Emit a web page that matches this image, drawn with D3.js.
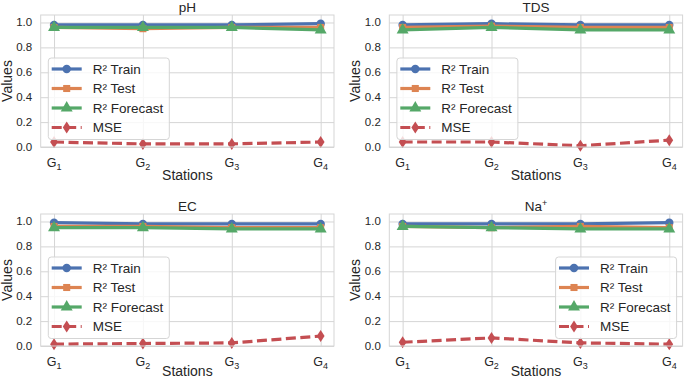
<!DOCTYPE html>
<html>
<head>
<meta charset="utf-8">
<script src="https://cdn.jsdelivr.net/npm/d3@7"></script>
<style>
  body { margin: 0; background: #fff; }
  svg { font-family: "Liberation Sans", Arial, sans-serif; }
</style>
</head>
<body>
<div id="chart"></div>
<script>
// station tick labels (G with subscript)
const stations = ["1", "2", "3", "4"];
const yTicks = [0, 0.2, 0.4, 0.6, 0.8, 1.0];
const seriesNames = ["R² Train", "R² Test", "R² Forecast", "MSE"];

// pH
const phTrain = [0.98, 0.98, 0.98, 0.99];
const phTest = [0.96, 0.95, 0.96, 0.96];
const phForecast = [0.96, 0.96, 0.96, 0.94];
const phMse = [0.04, 0.025, 0.025, 0.04];

// TDS
const tdsTrain = [0.98, 0.99, 0.98, 0.98];
const tdsTest = [0.96, 0.97, 0.96, 0.96];
const tdsForecast = [0.94, 0.96, 0.94, 0.94];
const tdsMse = [0.04, 0.04, 0.01, 0.055];

// EC
const ecTrain = [0.99, 0.98, 0.98, 0.98];
const ecTest = [0.96, 0.96, 0.95, 0.95];
const ecForecast = [0.95, 0.95, 0.94, 0.94];
const ecMse = [0.015, 0.02, 0.025, 0.08];

// Na+
const naTrain = [0.98, 0.98, 0.98, 0.99];
const naTest = [0.96, 0.95, 0.96, 0.95];
const naForecast = [0.96, 0.95, 0.94, 0.94];
const naMse = [0.03, 0.065, 0.025, 0.015];

const colors = ["#4c72b0", "#dd8452", "#55a868", "#c44e52"];
const symbols = [d3.symbolCircle, d3.symbolSquare, d3.symbolTriangle, d3.symbolDiamond];
const grid = "#d5d5d5";

const W = 685, H = 380;
const svg = d3.select("#chart").append("svg")
    .attr("width", W)
    .attr("height", H);

const panels = [
    { title: "pH", sup: null, left: 40.7, top: 15, series: [phTrain, phTest, phForecast, phMse], legend: "left" },
    { title: "TDS", sup: null, left: 389.3, top: 15, series: [tdsTrain, tdsTest, tdsForecast, tdsMse], legend: "left" },
    { title: "EC", sup: null, left: 40.7, top: 214, series: [ecTrain, ecTest, ecForecast, ecMse], legend: "left" },
    { title: "Na", sup: "+", left: 389.3, top: 214, series: [naTrain, naTest, naForecast, naMse], legend: "right" }
];
const pw = 293.3, ph = 132;

function markerPath(i) {
    // diamond is thin like matplotlib 'd'
    if (i === 3) return "M0,-6L3.9,0L0,6L-3.9,0Z";
    const size = i === 2 ? 62 : i === 1 ? 50 : 56;
    return d3.symbol().type(symbols[i]).size(size)();
}

panels.forEach(p => {
    const g = svg.append("g");
    const x = d3.scaleLinear().domain([-0.15, 3.15]).range([p.left, p.left + pw]);
    const y = d3.scaleLinear().domain([0, 1.06]).range([p.top + ph, p.top]);

    // background + grid
    g.append("rect")
        .attr("x", p.left).attr("y", p.top)
        .attr("width", pw).attr("height", ph)
        .attr("fill", "#fff");

    g.append("g")
        .attr("transform", `translate(0, ${p.top + ph})`)
        .call(d3.axisBottom(x).tickValues(d3.range(stations.length)).tickSize(-ph).tickFormat(""))
        .call(a => a.select(".domain").remove())
        .call(a => a.selectAll("line").attr("stroke", grid).attr("stroke-width", 1));

    g.append("g")
        .attr("transform", `translate(${p.left}, 0)`)
        .call(d3.axisLeft(y).tickValues(yTicks).tickSize(-pw).tickFormat(""))
        .call(a => a.select(".domain").remove())
        .call(a => a.selectAll("line").attr("stroke", grid).attr("stroke-width", 1));

    // y tick labels
    g.selectAll(".ylab").data(yTicks).enter().append("text")
        .attr("x", p.left - 8.5)
        .attr("y", d => y(d))
        .attr("dy", "0.35em")
        .attr("text-anchor", "end")
        .attr("font-size", 11.5)
        .attr("fill", "#262626")
        .text(d => d.toFixed(1));

    // x tick labels: G_n
    const xl = g.selectAll(".xlab").data(stations).enter().append("text")
        .attr("x", (d, i) => x(i))
        .attr("y", p.top + ph + 20)
        .attr("text-anchor", "middle")
        .attr("font-size", 12.5)
        .attr("fill", "#262626");
    xl.append("tspan").text("G");
    xl.append("tspan").attr("font-size", 9).attr("dy", 2.5).text(d => d);

    // lines + markers
    p.series.forEach((vals, si) => {
        const line = d3.line().x((d, i) => x(i)).y(d => y(d));
        g.append("path")
            .datum(vals)
            .attr("d", line)
            .attr("fill", "none")
            .attr("stroke", colors[si])
            .attr("stroke-width", 3.2)
            .attr("stroke-dasharray", si === 3 ? "10,4.5" : null);
        g.selectAll(".m" + si).data(vals).enter().append("path")
            .attr("d", markerPath(si))
            .attr("transform", (d, i) => `translate(${x(i)}, ${y(d)})`)
            .attr("fill", colors[si]);
    });

    // spines
    g.append("rect")
        .attr("x", p.left).attr("y", p.top)
        .attr("width", pw).attr("height", ph)
        .attr("fill", "none")
        .attr("stroke", grid)
        .attr("stroke-width", 1);

    // title
    const t = g.append("text")
        .attr("x", p.left + pw / 2)
        .attr("y", p.top - 3)
        .attr("text-anchor", "middle")
        .attr("font-size", 13.5)
        .attr("fill", "#262626");
    t.append("tspan").text(p.title);
    if (p.sup) t.append("tspan").attr("font-size", 9).attr("dy", -5).text(p.sup);

    // axis labels
    g.append("text")
        .attr("x", p.left + pw / 2)
        .attr("y", Math.min(p.top + ph + 33, H - 4))
        .attr("text-anchor", "middle")
        .attr("font-size", 14)
        .attr("fill", "#262626")
        .text("Stations");

    g.append("text")
        .attr("transform", `translate(${p.left - 34}, ${p.top + ph / 2}) rotate(-90)`)
        .attr("dy", "0.35em")
        .attr("text-anchor", "middle")
        .attr("font-size", 14)
        .attr("fill", "#262626")
        .text("Values");

    // legend
    const lw = 121, lh = 81.5;
    const lx = p.legend === "left" ? p.left + 7.6 : p.left + pw - 6 - lw;
    const ly = p.top + ph - 7.5 - lh;
    const leg = g.append("g").attr("transform", `translate(${lx}, ${ly})`);
    leg.append("rect")
        .attr("width", lw).attr("height", lh)
        .attr("rx", 3)
        .attr("fill", "#fff").attr("fill-opacity", 0.8)
        .attr("stroke", grid).attr("stroke-width", 1);
    seriesNames.forEach((name, si) => {
        const ry = 11 + si * 19.5;
        leg.append("line")
            .attr("x1", 3.4).attr("x2", 33.4)
            .attr("y1", ry).attr("y2", ry)
            .attr("stroke", colors[si])
            .attr("stroke-width", 3.2)
            .attr("stroke-dasharray", si === 3 ? "10,4.5" : null);
        leg.append("path")
            .attr("d", markerPath(si))
            .attr("transform", `translate(18.4, ${ry})`)
            .attr("fill", colors[si]);
        leg.append("text")
            .attr("x", 44.4).attr("y", ry)
            .attr("dy", "0.35em")
            .attr("font-size", 13.5)
            .attr("fill", "#262626")
            .text(name);
    });
});
</script>
</body>
</html>
